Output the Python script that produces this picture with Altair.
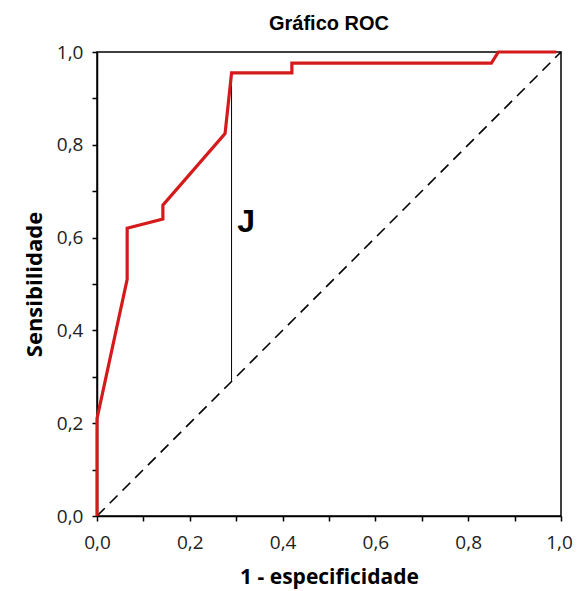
import altair as alt
import pandas as pd

fpr = [0.0, 0.0, 0.065, 0.065, 0.142, 0.142, 0.276, 0.29, 0.42, 0.42, 0.85, 0.865, 0.99]
tpr = [0.0, 0.21, 0.51, 0.62, 0.64, 0.67, 0.824, 0.955, 0.955, 0.976, 0.976, 1.0, 1.0]

diag_x = [0.0, 1.0]
diag_y = [0.0, 1.0]

j_x = 0.29
j_top = 0.955
j_bottom = 0.29
j_label = "J"
j_label_x = 0.302
j_label_y = 0.634

ticks = [round(i * 0.1, 1) for i in range(11)]

roc = pd.DataFrame({"x": fpr, "y": tpr, "o": list(range(len(fpr)))})
diag = pd.DataFrame({"x": diag_x, "y": diag_y})
jdf = pd.DataFrame({"x": [j_x], "y": [j_top], "y2": [j_bottom]})
jlab = pd.DataFrame({"x": [j_label_x], "y": [j_label_y], "t": [j_label]})

lab_expr = "(round(datum.value*10) % 2 == 0) ? replace(format(datum.value, '.1f'), '.', ',') : ''"

xscale = alt.Scale(domain=[0, 1], nice=False)
yscale = alt.Scale(domain=[0, 1], nice=False)

xaxis = alt.Axis(values=ticks, labelExpr=lab_expr, title="1 - especificidade", grid=False,
                 labelFont="Open Sans", labelFontSize=19, labelColor="#222", labelPadding=12,
                 labelOffset={"expr": "datum.value >= 0.99 ? -2 : 0"},
                 titleFont="Open Sans", titleFontSize=21, titleFontWeight="bold", titlePadding=14,
                 titleColor="#000", domainColor="#000", domainWidth=1.5, tickColor="#000",
                 tickWidth=1.5, tickSize=5, labelFlush=False)
yaxis = alt.Axis(values=ticks, labelExpr=lab_expr, title="Sensibilidade", grid=False,
                 labelFont="Open Sans", labelFontSize=19, labelColor="#222", labelPadding=9,
                 titleFont="Open Sans", titleFontSize=22, titleFontWeight="bold", titlePadding=10,
                 titleColor="#000", domainColor="#000", domainWidth=1.5, tickColor="#000",
                 tickWidth=1.5, tickSize=5, labelFlush=False)

base_diag = alt.Chart(diag).mark_line(color="#000", strokeWidth=1.6, strokeDash=[11, 7]).encode(
    x=alt.X("x:Q", scale=xscale, axis=xaxis),
    y=alt.Y("y:Q", scale=yscale, axis=yaxis),
)

jline = alt.Chart(jdf).mark_rule(color="#000", strokeWidth=1).encode(
    x="x:Q", y="y:Q", y2="y2:Q"
)

rocline = alt.Chart(roc).mark_line(color="#d41a1a", strokeWidth=3.2, strokeJoin="miter").encode(
    x="x:Q", y="y:Q", order="o:Q"
)

jtext = alt.Chart(jlab).mark_text(font="Liberation Sans", fontSize=32, fontWeight="bold",
                                  align="left", baseline="middle", color="#000").encode(
    x="x:Q", y="y:Q", text="t:N"
)

chart = alt.layer(base_diag, jline, rocline, jtext).properties(
    width=464, height=464,
    title=alt.TitleParams("Gráfico ROC", font="Liberation Sans", fontSize=20, fontWeight="bold",
                          color="#000", anchor="middle", offset=9),
    autosize=alt.AutoSizeParams(type="none"),
    padding={"left": 89, "top": 44, "right": 12, "bottom": 80},
).configure_view(stroke="#000", strokeWidth=1.5)

chart.save("out.html", embed_options={"renderer": "svg", "actions": False})
